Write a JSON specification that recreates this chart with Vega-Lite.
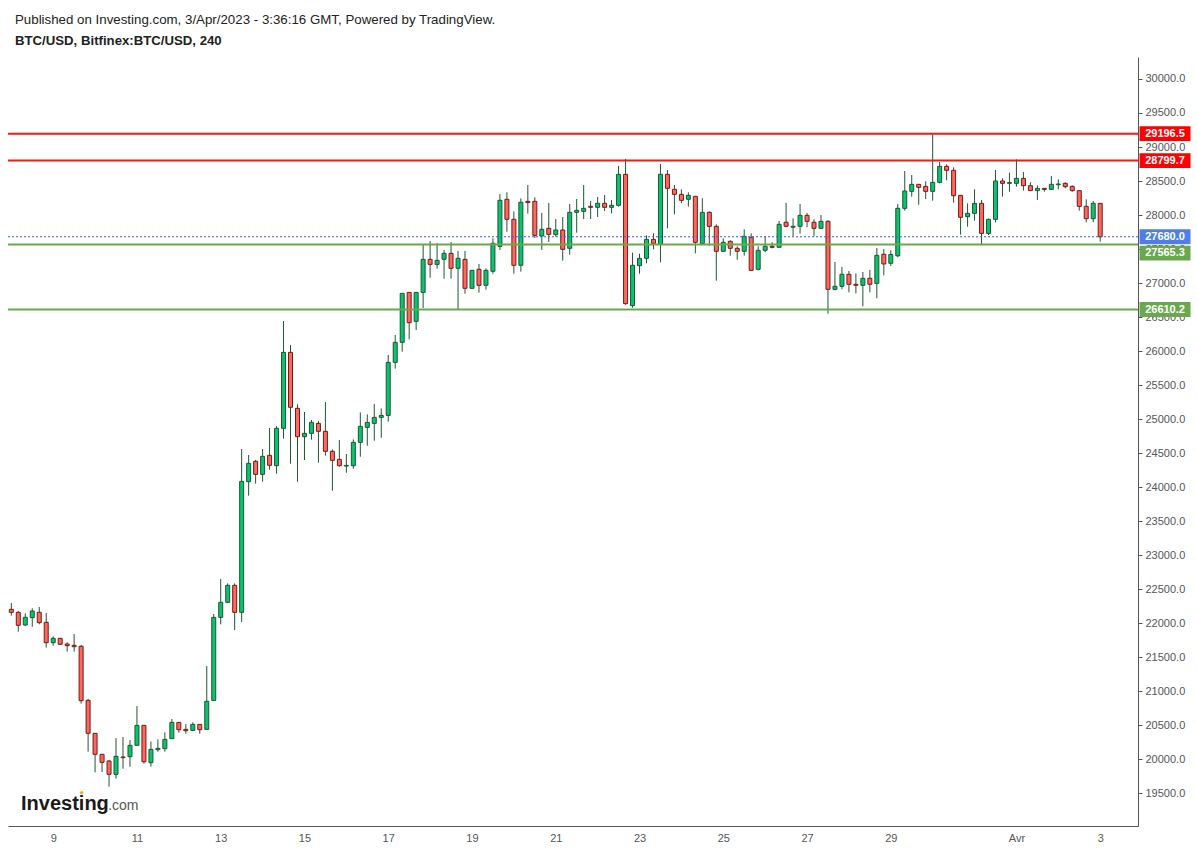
{
"$schema": "https://vega.github.io/schema/vega-lite/v6.json",
"width": 1130, "height": 769,
"autosize": {"type": "none"},
"padding": {"left": 8, "top": 57, "right": 59, "bottom": 24},
"background": "#ffffff",
"view": {"stroke": null},
"config": {"font": "Liberation Sans"},
"title": {"text": "Published on Investing.com, 3/Apr/2023 - 3:36:16 GMT, Powered by TradingView.", "subtitle": "BTC/USD, Bitfinex:BTC/USD, 240", "anchor": "start", "frame": "group", "font": "Liberation Sans", "fontSize": 13.3, "fontWeight": "normal", "color": "#222222", "subtitleFont": "Liberation Sans", "subtitleFontSize": 13.2, "subtitleFontWeight": "bold", "subtitleColor": "#222222", "subtitlePadding": 9, "offset": 10, "dx": 7},
"datasets": {
"candles": [
{"t":"2023-03-08T00:00Z","o":22201,"h":22294,"l":22108,"c":22157},
{"t":"2023-03-08T04:00Z","o":22157,"h":22177,"l":21873,"c":21966},
{"t":"2023-03-08T08:00Z","o":21971,"h":22142,"l":21956,"c":22084},
{"t":"2023-03-08T12:00Z","o":22079,"h":22216,"l":21946,"c":22177},
{"t":"2023-03-08T16:00Z","o":22157,"h":22236,"l":21981,"c":22005},
{"t":"2023-03-08T20:00Z","o":22010,"h":22147,"l":21638,"c":21711},
{"t":"2023-03-09T00:00Z","o":21711,"h":21804,"l":21667,"c":21775},
{"t":"2023-03-09T04:00Z","o":21775,"h":21780,"l":21682,"c":21687},
{"t":"2023-03-09T08:00Z","o":21691,"h":21716,"l":21579,"c":21667},
{"t":"2023-03-09T12:00Z","o":21672,"h":21838,"l":21579,"c":21652},
{"t":"2023-03-09T16:00Z","o":21657,"h":21677,"l":20814,"c":20858},
{"t":"2023-03-09T20:00Z","o":20863,"h":20883,"l":20108,"c":20378},
{"t":"2023-03-10T00:00Z","o":20378,"h":20383,"l":19804,"c":20069},
{"t":"2023-03-10T04:00Z","o":20069,"h":20074,"l":19809,"c":19951},
{"t":"2023-03-10T08:00Z","o":19971,"h":19985,"l":19593,"c":19775},
{"t":"2023-03-10T12:00Z","o":19774,"h":20308,"l":19710,"c":20039},
{"t":"2023-03-10T16:00Z","o":20030,"h":20323,"l":19857,"c":20020},
{"t":"2023-03-10T20:00Z","o":20034,"h":20279,"l":19887,"c":20201},
{"t":"2023-03-11T00:00Z","o":20201,"h":20779,"l":20196,"c":20495},
{"t":"2023-03-11T04:00Z","o":20495,"h":20500,"l":19931,"c":19960},
{"t":"2023-03-11T08:00Z","o":19946,"h":20259,"l":19887,"c":20142},
{"t":"2023-03-11T12:00Z","o":20137,"h":20289,"l":20107,"c":20157},
{"t":"2023-03-11T16:00Z","o":20152,"h":20392,"l":20107,"c":20289},
{"t":"2023-03-11T20:00Z","o":20299,"h":20588,"l":20294,"c":20539},
{"t":"2023-03-12T00:00Z","o":20539,"h":20544,"l":20387,"c":20431},
{"t":"2023-03-12T04:00Z","o":20436,"h":20514,"l":20372,"c":20416},
{"t":"2023-03-12T08:00Z","o":20421,"h":20539,"l":20416,"c":20509},
{"t":"2023-03-12T12:00Z","o":20509,"h":20514,"l":20372,"c":20431},
{"t":"2023-03-12T16:00Z","o":20436,"h":21367,"l":20431,"c":20848},
{"t":"2023-03-12T20:00Z","o":20862,"h":22132,"l":20857,"c":22083},
{"t":"2023-03-13T00:00Z","o":22083,"h":22647,"l":21980,"c":22304},
{"t":"2023-03-13T04:00Z","o":22304,"h":22583,"l":22299,"c":22554},
{"t":"2023-03-13T08:00Z","o":22554,"h":22583,"l":21897,"c":22157},
{"t":"2023-03-13T12:00Z","o":22157,"h":24559,"l":22015,"c":24083},
{"t":"2023-03-13T16:00Z","o":24078,"h":24471,"l":23873,"c":24348},
{"t":"2023-03-13T20:00Z","o":24378,"h":24397,"l":24049,"c":24186},
{"t":"2023-03-14T00:00Z","o":24186,"h":24559,"l":24078,"c":24451},
{"t":"2023-03-14T04:00Z","o":24466,"h":24868,"l":24255,"c":24319},
{"t":"2023-03-14T08:00Z","o":24314,"h":24897,"l":24196,"c":24863},
{"t":"2023-03-14T12:00Z","o":24863,"h":26441,"l":24711,"c":25980},
{"t":"2023-03-14T16:00Z","o":25980,"h":26088,"l":24343,"c":25172},
{"t":"2023-03-14T20:00Z","o":25157,"h":25216,"l":24078,"c":24740},
{"t":"2023-03-15T00:00Z","o":24740,"h":25103,"l":24397,"c":24789},
{"t":"2023-03-15T04:00Z","o":24789,"h":24985,"l":24696,"c":24951},
{"t":"2023-03-15T08:00Z","o":24936,"h":24971,"l":24358,"c":24819},
{"t":"2023-03-15T12:00Z","o":24819,"h":25250,"l":24461,"c":24525},
{"t":"2023-03-15T16:00Z","o":24525,"h":24554,"l":23946,"c":24392},
{"t":"2023-03-15T20:00Z","o":24406,"h":24691,"l":24299,"c":24313},
{"t":"2023-03-16T00:00Z","o":24308,"h":24485,"l":24210,"c":24318},
{"t":"2023-03-16T04:00Z","o":24313,"h":24700,"l":24269,"c":24656},
{"t":"2023-03-16T08:00Z","o":24656,"h":25098,"l":24446,"c":24892},
{"t":"2023-03-16T12:00Z","o":24877,"h":25068,"l":24607,"c":24950},
{"t":"2023-03-16T16:00Z","o":24936,"h":25220,"l":24681,"c":25024},
{"t":"2023-03-16T20:00Z","o":25024,"h":25156,"l":24725,"c":25053},
{"t":"2023-03-17T00:00Z","o":25053,"h":25941,"l":24960,"c":25833},
{"t":"2023-03-17T04:00Z","o":25833,"h":26235,"l":25740,"c":26127},
{"t":"2023-03-17T08:00Z","o":26127,"h":26853,"l":25990,"c":26848},
{"t":"2023-03-17T12:00Z","o":26862,"h":26867,"l":26171,"c":26416},
{"t":"2023-03-17T16:00Z","o":26436,"h":26867,"l":26308,"c":26862},
{"t":"2023-03-17T20:00Z","o":26862,"h":27573,"l":26632,"c":27348},
{"t":"2023-03-18T00:00Z","o":27348,"h":27617,"l":27078,"c":27274},
{"t":"2023-03-18T04:00Z","o":27274,"h":27588,"l":27210,"c":27333},
{"t":"2023-03-18T08:00Z","o":27348,"h":27486,"l":27064,"c":27436},
{"t":"2023-03-18T12:00Z","o":27436,"h":27603,"l":27064,"c":27216},
{"t":"2023-03-18T16:00Z","o":27216,"h":27471,"l":26613,"c":27363},
{"t":"2023-03-18T20:00Z","o":27348,"h":27471,"l":26843,"c":26922},
{"t":"2023-03-19T00:00Z","o":26922,"h":27190,"l":26918,"c":27186},
{"t":"2023-03-19T04:00Z","o":27201,"h":27280,"l":26858,"c":26966},
{"t":"2023-03-19T08:00Z","o":26966,"h":27216,"l":26902,"c":27186},
{"t":"2023-03-19T12:00Z","o":27172,"h":27657,"l":27137,"c":27584},
{"t":"2023-03-19T16:00Z","o":27539,"h":28309,"l":27486,"c":28216},
{"t":"2023-03-19T20:00Z","o":28231,"h":28334,"l":27755,"c":27937},
{"t":"2023-03-20T00:00Z","o":27937,"h":28054,"l":27137,"c":27260},
{"t":"2023-03-20T04:00Z","o":27260,"h":28245,"l":27167,"c":28187},
{"t":"2023-03-20T08:00Z","o":28201,"h":28441,"l":28020,"c":28182},
{"t":"2023-03-20T12:00Z","o":28201,"h":28260,"l":27662,"c":27701},
{"t":"2023-03-20T16:00Z","o":27691,"h":28030,"l":27486,"c":27789},
{"t":"2023-03-20T20:00Z","o":27804,"h":28177,"l":27603,"c":27716},
{"t":"2023-03-21T00:00Z","o":27711,"h":27941,"l":27681,"c":27780},
{"t":"2023-03-21T04:00Z","o":27780,"h":27971,"l":27329,"c":27495},
{"t":"2023-03-21T08:00Z","o":27510,"h":28162,"l":27417,"c":28039},
{"t":"2023-03-21T12:00Z","o":28039,"h":28235,"l":27740,"c":28069},
{"t":"2023-03-21T16:00Z","o":28054,"h":28441,"l":27941,"c":28098},
{"t":"2023-03-21T20:00Z","o":28128,"h":28206,"l":27941,"c":28113},
{"t":"2023-03-22T00:00Z","o":28113,"h":28265,"l":27971,"c":28172},
{"t":"2023-03-22T04:00Z","o":28172,"h":28294,"l":28059,"c":28113},
{"t":"2023-03-22T08:00Z","o":28113,"h":28221,"l":28025,"c":28142},
{"t":"2023-03-22T12:00Z","o":28142,"h":28721,"l":28122,"c":28598},
{"t":"2023-03-22T16:00Z","o":28598,"h":28824,"l":26680,"c":26696},
{"t":"2023-03-22T20:00Z","o":26667,"h":27446,"l":26637,"c":27260},
{"t":"2023-03-23T00:00Z","o":27255,"h":27431,"l":27137,"c":27363},
{"t":"2023-03-23T04:00Z","o":27363,"h":27701,"l":27289,"c":27642},
{"t":"2023-03-23T08:00Z","o":27642,"h":27730,"l":27495,"c":27583},
{"t":"2023-03-23T12:00Z","o":27569,"h":28750,"l":27304,"c":28598},
{"t":"2023-03-23T16:00Z","o":28598,"h":28662,"l":27804,"c":28392},
{"t":"2023-03-23T20:00Z","o":28378,"h":28441,"l":28010,"c":28304},
{"t":"2023-03-24T00:00Z","o":28304,"h":28378,"l":28172,"c":28216},
{"t":"2023-03-24T04:00Z","o":28231,"h":28333,"l":28123,"c":28289},
{"t":"2023-03-24T08:00Z","o":28275,"h":28280,"l":27436,"c":27598},
{"t":"2023-03-24T12:00Z","o":27579,"h":28245,"l":27564,"c":28039},
{"t":"2023-03-24T16:00Z","o":28039,"h":28054,"l":27549,"c":27833},
{"t":"2023-03-24T20:00Z","o":27833,"h":27863,"l":27034,"c":27466},
{"t":"2023-03-25T00:00Z","o":27466,"h":27657,"l":27461,"c":27598},
{"t":"2023-03-25T04:00Z","o":27613,"h":27628,"l":27402,"c":27510},
{"t":"2023-03-25T08:00Z","o":27510,"h":27539,"l":27343,"c":27466},
{"t":"2023-03-25T12:00Z","o":27466,"h":27789,"l":27402,"c":27686},
{"t":"2023-03-25T16:00Z","o":27672,"h":27730,"l":27186,"c":27186},
{"t":"2023-03-25T20:00Z","o":27201,"h":27539,"l":27186,"c":27480},
{"t":"2023-03-26T00:00Z","o":27480,"h":27686,"l":27451,"c":27539},
{"t":"2023-03-26T04:00Z","o":27539,"h":27598,"l":27510,"c":27525},
{"t":"2023-03-26T08:00Z","o":27525,"h":27912,"l":27520,"c":27863},
{"t":"2023-03-26T12:00Z","o":27893,"h":28177,"l":27820,"c":27834},
{"t":"2023-03-26T16:00Z","o":27820,"h":27951,"l":27687,"c":27834},
{"t":"2023-03-26T20:00Z","o":27834,"h":28162,"l":27726,"c":27995},
{"t":"2023-03-27T00:00Z","o":27995,"h":28030,"l":27819,"c":27907},
{"t":"2023-03-27T04:00Z","o":27893,"h":27937,"l":27687,"c":27804},
{"t":"2023-03-27T08:00Z","o":27804,"h":28000,"l":27799,"c":27907},
{"t":"2023-03-27T12:00Z","o":27907,"h":27922,"l":26549,"c":26907},
{"t":"2023-03-27T16:00Z","o":26907,"h":27309,"l":26892,"c":26951},
{"t":"2023-03-27T20:00Z","o":26951,"h":27236,"l":26907,"c":27128},
{"t":"2023-03-28T00:00Z","o":27128,"h":27177,"l":26863,"c":26981},
{"t":"2023-03-28T04:00Z","o":26981,"h":27142,"l":26848,"c":26966},
{"t":"2023-03-28T08:00Z","o":26966,"h":27162,"l":26657,"c":27069},
{"t":"2023-03-28T12:00Z","o":27069,"h":27192,"l":26863,"c":26981},
{"t":"2023-03-28T16:00Z","o":26995,"h":27515,"l":26775,"c":27407},
{"t":"2023-03-28T20:00Z","o":27422,"h":27500,"l":27113,"c":27280},
{"t":"2023-03-29T00:00Z","o":27290,"h":27480,"l":27250,"c":27420},
{"t":"2023-03-29T04:00Z","o":27400,"h":28162,"l":27380,"c":28098},
{"t":"2023-03-29T08:00Z","o":28098,"h":28647,"l":28064,"c":28353},
{"t":"2023-03-29T12:00Z","o":28348,"h":28588,"l":28270,"c":28451},
{"t":"2023-03-29T16:00Z","o":28451,"h":28456,"l":28152,"c":28407},
{"t":"2023-03-29T20:00Z","o":28421,"h":28495,"l":28235,"c":28348},
{"t":"2023-03-30T00:00Z","o":28348,"h":29190,"l":28211,"c":28480},
{"t":"2023-03-30T04:00Z","o":28480,"h":28779,"l":28466,"c":28716},
{"t":"2023-03-30T08:00Z","o":28716,"h":28745,"l":28510,"c":28657},
{"t":"2023-03-30T12:00Z","o":28657,"h":28701,"l":28181,"c":28284},
{"t":"2023-03-30T16:00Z","o":28289,"h":28294,"l":27711,"c":27966},
{"t":"2023-03-30T20:00Z","o":27975,"h":28171,"l":27828,"c":28024},
{"t":"2023-03-31T00:00Z","o":28024,"h":28377,"l":27917,"c":28171},
{"t":"2023-03-31T04:00Z","o":28171,"h":28221,"l":27564,"c":27730},
{"t":"2023-03-31T08:00Z","o":27730,"h":27946,"l":27706,"c":27936},
{"t":"2023-03-31T12:00Z","o":27936,"h":28662,"l":27892,"c":28500},
{"t":"2023-03-31T16:00Z","o":28500,"h":28539,"l":28270,"c":28466},
{"t":"2023-03-31T20:00Z","o":28466,"h":28622,"l":28343,"c":28476},
{"t":"2023-04-01T00:00Z","o":28466,"h":28819,"l":28417,"c":28539},
{"t":"2023-04-01T04:00Z","o":28539,"h":28632,"l":28358,"c":28431},
{"t":"2023-04-01T08:00Z","o":28431,"h":28480,"l":28353,"c":28358},
{"t":"2023-04-01T12:00Z","o":28358,"h":28436,"l":28221,"c":28392},
{"t":"2023-04-01T16:00Z","o":28392,"h":28397,"l":28343,"c":28377},
{"t":"2023-04-01T20:00Z","o":28377,"h":28573,"l":28372,"c":28451},
{"t":"2023-04-02T00:00Z","o":28446,"h":28524,"l":28377,"c":28456},
{"t":"2023-04-02T04:00Z","o":28466,"h":28480,"l":28392,"c":28417},
{"t":"2023-04-02T08:00Z","o":28421,"h":28436,"l":28343,"c":28358},
{"t":"2023-04-02T12:00Z","o":28358,"h":28363,"l":28064,"c":28127},
{"t":"2023-04-02T16:00Z","o":28127,"h":28230,"l":27892,"c":27946},
{"t":"2023-04-02T20:00Z","o":27946,"h":28206,"l":27892,"c":28171},
{"t":"2023-04-03T00:00Z","o":28171,"h":28176,"l":27608,"c":27680}
],
"levels": [
{"p":29196.5,"k":"r"},
{"p":28799.7,"k":"r"},
{"p":27680.0,"k":"b"},
{"p":27565.3,"k":"g"},
{"p":26610.2,"k":"g"}
]
},
"encoding": {
"x": {"type": "temporal", "scale": {"type": "utc", "padding": 0, "domain": [{"year": 2023, "month": 3, "date": 7, "hours": 22, "minutes": 6, "utc": true}, {"year": 2023, "month": 4, "date": 3, "hours": 21, "minutes": 40, "utc": true}]},
  "axis": {"title": null, "orient": "bottom", "values": [{"year":2023,"month":3,"date":9,"utc":true},{"year":2023,"month":3,"date":11,"utc":true},{"year":2023,"month":3,"date":13,"utc":true},{"year":2023,"month":3,"date":15,"utc":true},{"year":2023,"month":3,"date":17,"utc":true},{"year":2023,"month":3,"date":19,"utc":true},{"year":2023,"month":3,"date":21,"utc":true},{"year":2023,"month":3,"date":23,"utc":true},{"year":2023,"month":3,"date":25,"utc":true},{"year":2023,"month":3,"date":27,"utc":true},{"year":2023,"month":3,"date":29,"utc":true},{"year":2023,"month":4,"date":1,"utc":true},{"year":2023,"month":4,"date":3,"utc":true}],
    "labelExpr": "utcdate(datum.value) == 1 ? 'Avr' : '' + utcdate(datum.value)", "grid": false, "ticks": false, "tickSize": 0, "labelPadding": 6, "labelFontSize": 11, "labelColor": "#555555", "labelFont": "Liberation Sans", "domainColor": "#555555", "labelFlush": false, "labelOverlap": false}},
"y": {"type": "quantitative", "scale": {"domain": [19015, 30323.5], "nice": false, "zero": false, "padding": 0},
  "axis": {"title": null, "orient": "right", "values": [19500,20000,20500,21000,21500,22000,22500,23000,23500,24000,24500,25000,25500,26000,26500,27000,27500,28000,28500,29000,29500,30000], "format": ".1f", "grid": false, "tickSize": 4, "tickColor": "#555555", "labelPadding": 3, "labelFontSize": 11, "labelColor": "#555555", "labelFont": "Liberation Sans", "domainColor": "#555555", "labelOverlap": false}}
},
"layer": [
{"data": {"name": "candles"},
 "mark": {"type": "rule", "strokeWidth": 1},
 "encoding": {"x": {"field": "t"}, "y": {"field": "l"}, "y2": {"field": "h"},
   "color": {"value": "#1f5535"}}},
{"data": {"name": "candles"},
 "mark": {"type": "bar", "size": 4, "strokeWidth": 1},
 "encoding": {"x": {"field": "t"}, "y": {"field": "o"}, "y2": {"field": "c"},
   "fill": {"condition": {"test": "datum.c >= datum.o", "value": "#07c46e"}, "value": "#ff665e"},
   "stroke": {"condition": {"test": "datum.c >= datum.o", "value": "#1f5535"}, "value": "#6e1e16"}}},
{"data": {"name": "levels"},
 "mark": {"type": "rule"},
 "encoding": {"y": {"field": "p"},
   "stroke": {"field": "k", "type": "nominal", "scale": {"domain": ["r", "g", "b"], "range": ["#ff1414", "#6aa84f", "#2f62f0"]}, "legend": null},
   "strokeDash": {"condition": {"test": "datum.k == 'b'", "value": [2, 2]}, "value": [1, 0]},
   "strokeWidth": {"condition": {"test": "datum.k == 'b'", "value": 1}, "value": 2}}},
{"data": {"name": "levels"},
 "mark": {"type": "point", "filled": true, "opacity": 1, "size": 2601, "strokeWidth": 0},
 "encoding": {"y": {"field": "p"}, "x": {"datum": {"year": 2023, "month": 4, "date": 4, "hours": 13, "minutes": 9, "utc": true}},
   "shape": {"condition": {"test": "datum.p == 27565.3", "value": "M-1,0.043H1V0.623H-1Z"}, "value": "M-1,-0.29H1V0.29H-1Z"},
   "fill": {"field": "k", "type": "nominal", "scale": {"domain": ["r", "g", "b"], "range": ["#ff0000", "#6aa84f", "#4f7fe6"]}, "legend": null}}},
{"data": {"name": "levels"},
 "transform": [{"filter": "datum.p != 27565.3"}],
 "mark": {"type": "text", "font": "Liberation Sans", "fontSize": 11, "fontWeight": "bold", "color": "#ffffff", "align": "center", "baseline": "middle"},
 "encoding": {"y": {"field": "p"}, "x": {"datum": {"year": 2023, "month": 4, "date": 4, "hours": 13, "minutes": 9, "utc": true}},
   "text": {"field": "p", "type": "quantitative", "format": ".1f"}}},
{"data": {"name": "levels"},
 "transform": [{"filter": "datum.p == 27565.3"}],
 "mark": {"type": "text", "font": "Liberation Sans", "fontSize": 11, "fontWeight": "bold", "color": "#ffffff", "align": "center", "baseline": "middle", "dy": 8.5},
 "encoding": {"y": {"field": "p"}, "x": {"datum": {"year": 2023, "month": 4, "date": 4, "hours": 13, "minutes": 9, "utc": true}},
   "text": {"field": "p", "type": "quantitative", "format": ".1f"}}},
{"data": {"values": [{"s": "Investing"}]},
 "mark": {"type": "text", "font": "Liberation Sans", "fontSize": 20, "fontWeight": "bold", "color": "#1a1a1a", "align": "left", "baseline": "alphabetic"},
 "encoding": {"x": {"datum": {"year": 2023, "month": 3, "date": 8, "hours": 5, "minutes": 34, "utc": true}}, "y": {"datum": 19250}, "text": {"field": "s"}}},
{"data": {"values": [{"s": ".com"}]},
 "mark": {"type": "text", "font": "Liberation Sans", "fontSize": 14, "color": "#555555", "align": "left", "baseline": "alphabetic"},
 "encoding": {"x": {"datum": {"year": 2023, "month": 3, "date": 10, "hours": 7, "minutes": 30, "utc": true}}, "y": {"datum": 19250}, "text": {"field": "s"}}},
{"data": {"values": [{"s": "dot"}]},
 "mark": {"type": "circle", "size": 12, "opacity": 1, "color": "#f5a623"},
 "encoding": {"x": {"datum": {"year": 2023, "month": 3, "date": 9, "hours": 16, "minutes": 20, "utc": true}}, "y": {"datum": 19505}}}
]
}
